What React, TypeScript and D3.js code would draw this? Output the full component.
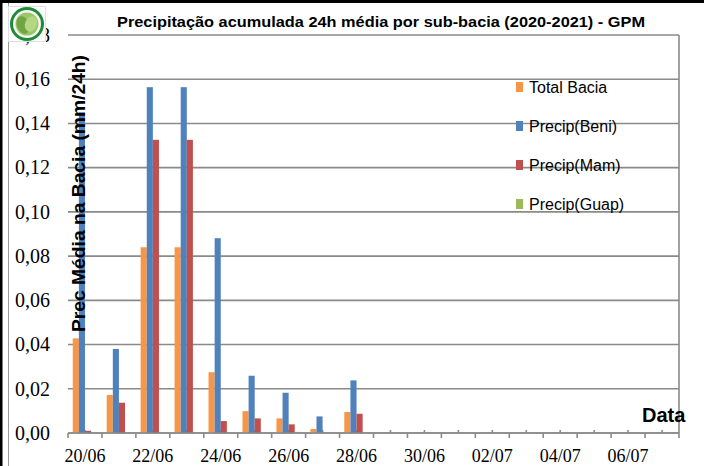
import React from "react";
import * as d3 from "d3";

const categories = ["20/06","21/06","22/06","23/06","24/06","25/06","26/06","27/06","28/06","29/06","30/06","01/07","02/07","03/07","04/07","05/07","06/07","07/07"];
const seriesNames = ["Total Bacia", "Precip(Beni)", "Precip(Mam)", "Precip(Guap)"];
const totalBacia = [0.0428, 0.0172, 0.084, 0.084, 0.0275, 0.0099, 0.0066, 0.0018, 0.0095, 0, 0, 0, 0, 0, 0, 0, 0, 0];
const precipBeni = [0.1451, 0.038, 0.1564, 0.1564, 0.0881, 0.0259, 0.0182, 0.0075, 0.0238, 0, 0, 0, 0, 0, 0, 0, 0, 0];
const precipMam = [0.001, 0.0137, 0.1326, 0.1326, 0.0054, 0.0066, 0.0039, 0, 0.0087, 0, 0, 0, 0, 0, 0, 0, 0, 0];
const precipGuap = [0, 0, 0, 0, 0, 0, 0.0005, 0, 0, 0, 0, 0, 0, 0, 0, 0, 0, 0];
const yTicks = [0, 0.02, 0.04, 0.06, 0.08, 0.1, 0.12, 0.14, 0.16, 0.18];
const colors = ["#F79646", "#4F81BD", "#C0504D", "#9BBB59"];
const titleText = "Precipitação acumulada 24h média por sub-bacia (2020-2021) - GPM";
const yTitle = "Prec Média na Bacia (mm/24h)";
const xTitle = "Data";

export default function App() {
  const W = 704, H = 466;
  const left = 68, right = 679, top = 35, bottom = 433;
  const x = d3.scaleBand<string>().domain(categories).range([left, right]).padding(0);
  const y = d3.scaleLinear().domain([0, 0.18]).range([bottom, top]);
  const xs = d3.scaleBand<string>().domain(seriesNames).range([0, x.bandwidth()]).paddingInner(0).paddingOuter(0.78);
  const allSeries = [totalBacia, precipBeni, precipMam, precipGuap];
  const fmt = (v: number) => v.toFixed(2).replace(".", ",");
  const grid = "#8a8a8a";

  return (
    <svg width={W} height={H} style={{ position: "absolute", left: 0, top: 0, display: "block", background: "#fff" }}>
      {/* outer frame */}
      <rect x={0} y={0} width={W} height={3} fill="#000" />
      <rect x={0} y={0} width={2.5} height={H} fill="#000" />
      <line x1={8.5} x2={8.5} y1={3} y2={H} stroke="#9a9a9a" strokeWidth={1} />

      {/* gridlines */}
      {yTicks.map((t) => (
        <line key={t} x1={left} x2={right} y1={y(t)} y2={y(t)} stroke={grid} strokeWidth={1.6} />
      ))}
      <line x1={right} x2={right} y1={top} y2={bottom + 5} stroke={grid} strokeWidth={1.6} />

      {/* y labels */}
      {yTicks.map((t) => (
        <text key={t} x={50} y={y(t)} dy="0.34em" textAnchor="end" fontFamily="'Liberation Serif', serif" fontSize={20} fill="#000">
          {fmt(t)}
        </text>
      ))}

      {/* x axis ticks */}
      {categories.map((c, i) => (
        <g key={c}>
          <line x1={x(c)!} x2={x(c)!} y1={bottom} y2={bottom + 5} stroke={grid} strokeWidth={1.6} />
          <line x1={x(c)! + x.bandwidth() / 2} x2={x(c)! + x.bandwidth() / 2} y1={bottom} y2={bottom - 3} stroke={grid} strokeWidth={1.6} />
          {i % 2 === 0 && (
            <text x={x(c)! + x.bandwidth() / 2} y={462} textAnchor="middle" fontFamily="'Liberation Serif', serif" fontSize={18} fill="#000">
              {c}
            </text>
          )}
        </g>
      ))}

      {/* bars */}
      {allSeries.map((vals, si) =>
        vals.map((v, ci) =>
          v > 0 ? (
            <rect
              key={si + "-" + ci}
              x={x(categories[ci])! + xs(seriesNames[si])!}
              y={y(v)}
              width={xs.bandwidth()}
              height={bottom - y(v)}
              fill={colors[si]}
            />
          ) : null
        )
      )}

      {/* x baseline */}
      <line x1={left} x2={right} y1={bottom} y2={bottom} stroke={grid} strokeWidth={1.6} />

      {/* y title */}
      <text
        transform={`translate(85,332) rotate(-90)`}
        fontFamily="'Liberation Sans', Arial, sans-serif"
        fontWeight="bold"
        fontSize={19}
        textLength={277}
        lengthAdjust="spacingAndGlyphs"
        fill="#000"
      >
        {yTitle}
      </text>

      {/* x title */}
      <text x={642} y={421.5} fontFamily="'Liberation Sans', Arial, sans-serif" fontWeight="bold" fontSize={20} fill="#000">
        {xTitle}
      </text>

      {/* title */}
      <text x={117} y={27} fontFamily="'Liberation Sans', Arial, sans-serif" fontWeight="bold" fontSize={15} textLength={528} lengthAdjust="spacingAndGlyphs" fill="#000">
        {titleText}
      </text>

      {/* legend */}
      {seriesNames.map((s, i) => (
        <g key={s} transform={`translate(516,${87 + i * 39})`}>
          <rect x={0} y={-5} width={7} height={10} fill={colors[i]} />
          <text x={13} y={0} dy="0.36em" fontFamily="'Liberation Sans', Arial, sans-serif" fontSize={16} fill="#000">
            {s}
          </text>
        </g>
      ))}

      {/* logo */}
      <g>
        <rect x={8.5} y={6.5} width={37} height={35} fill="#fff" stroke="#e0e0e0" strokeWidth={1} />
        <circle cx={27} cy={24} r={17} fill="#1f8a3c" />
        <circle cx={27} cy={24} r={14} fill="#f4f8ee" />
        <circle cx={27} cy={24} r={11.5} fill="#9cc46a" />
        <ellipse cx={23} cy={25} rx={6} ry={9} fill="#6fa542" transform="rotate(-20,23,25)" />
        <ellipse cx={31} cy={24} rx={6} ry={8} fill="#b4d784" transform="rotate(20,31,24)" />
      </g>
    </svg>
  );
}
